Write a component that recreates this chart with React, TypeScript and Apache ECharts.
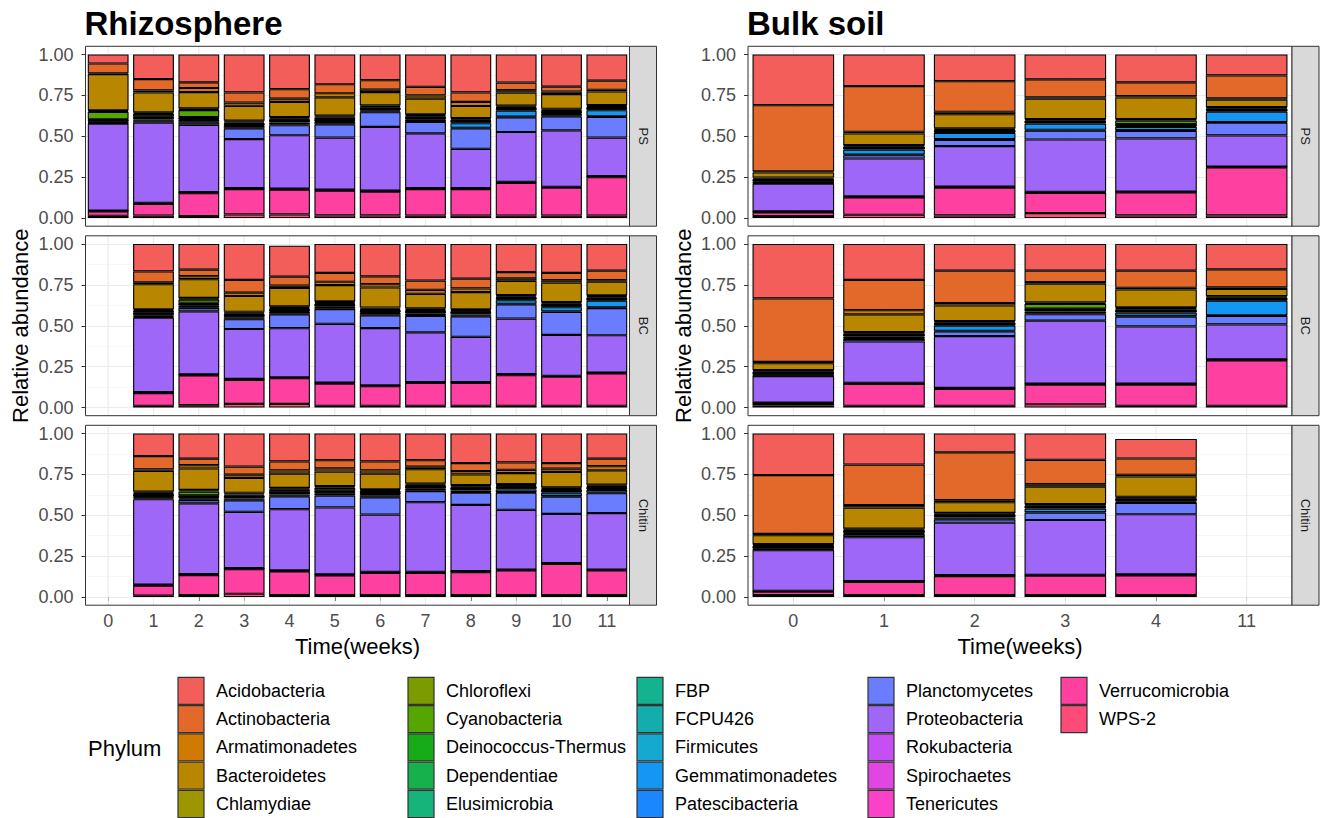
import React, { useEffect, useRef } from "react";
import * as echarts from "echarts";

// ---------------- data ----------------
const PHYLA = [
  "Acidobacteria", "Actinobacteria", "Armatimonadetes", "Bacteroidetes", "Chlamydiae",
  "Chloroflexi", "Cyanobacteria", "Deinococcus-Thermus", "Dependentiae", "Elusimicrobia",
  "FBP", "FCPU426", "Firmicutes", "Gemmatimonadetes", "Patescibacteria",
  "Planctomycetes", "Proteobacteria", "Rokubacteria", "Spirochaetes", "Tenericutes",
  "Verrucomicrobia", "WPS-2",
];

const PHYLUM_COLORS = [
  "#F35E5A", "#E3692B", "#D07A00", "#B98600", "#9D9600",
  "#7B9B00", "#55A600", "#16AB17", "#17B04D", "#16B47A",
  "#14B28E", "#14ADAD", "#15A9CF", "#1596F2", "#1A86FF",
  "#6A7DFF", "#9F67F8", "#C54EF4", "#E246E2", "#F941CA",
  "#FE41A0", "#FE4C78",
];

const RHIZO_WEEKS = ["0", "1", "2", "3", "4", "5", "6", "7", "8", "9", "10", "11"];
const BULK_WEEKS = ["0", "1", "2", "3", "4", "11"];
const TREATMENTS = ["PS", "BC", "Chitin"];
const REGIONS = ["Rhizosphere", "Bulk soil"];
const Y_TICKS = [0, 0.25, 0.5, 0.75, 1];

type Table = Record<string, (number | null)[]>;

const RHIZO_PS: Table = {
  Acidobacteria: [0.055, 0.15, 0.17, 0.232, 0.212, 0.182, 0.157, 0.198, 0.232, 0.172, 0.197, 0.16],
  Actinobacteria: [0.06, 0.07, 0.035, 0.062, 0.058, 0.055, 0.058, 0.052, 0.058, 0.046, 0.03, 0.056],
  Armatimonadetes: [0.005, 0.012, 0.025, 0.02, 0.02, 0.025, 0.015, 0.02, 0.025, 0.015, 0.015, 0.01],
  Bacteroidetes: [0.221, 0.122, 0.1, 0.09, 0.093, 0.112, 0.081, 0.096, 0.074, 0.08, 0.09, 0.084],
  Chlamydiae: [0.004, 0.004, 0.004, 0.004, 0.004, 0.004, 0.004, 0.004, 0.004, 0.004, 0.004, 0.004],
  Chloroflexi: [0.006, 0.006, 0.006, 0.006, 0.006, 0.006, 0.006, 0.006, 0.006, 0.006, 0.006, 0.006],
  Cyanobacteria: [0.045, 0.015, 0.043, 0.006, 0.005, 0.01, 0.004, 0.004, 0.003, 0.003, 0.003, 0.003],
  "Deinococcus-Thermus": [0.004, 0.004, 0.004, 0.004, 0.004, 0.004, 0.004, 0.004, 0.004, 0.004, 0.004, 0.004],
  Dependentiae: [0.002, 0.002, 0.002, 0.002, 0.002, 0.002, 0.002, 0.002, 0.002, 0.002, 0.002, 0.002],
  Elusimicrobia: [0.002, 0.002, 0.002, 0.002, 0.002, 0.002, 0.002, 0.002, 0.002, 0.002, 0.002, 0.002],
  FBP: [0.002, 0.002, 0.002, 0.002, 0.002, 0.002, 0.002, 0.002, 0.002, 0.002, 0.002, 0.002],
  FCPU426: [0.002, 0.002, 0.002, 0.002, 0.002, 0.002, 0.002, 0.002, 0.002, 0.002, 0.002, 0.002],
  Firmicutes: [0.006, 0.006, 0.006, 0.006, 0.006, 0.006, 0.006, 0.006, 0.006, 0.006, 0.006, 0.006],
  Gemmatimonadetes: [0.002, 0.008, 0.01, 0.01, 0.012, 0.012, 0.006, 0.01, 0.028, 0.036, 0.012, 0.037],
  Patescibacteria: [0.004, 0.004, 0.004, 0.004, 0.004, 0.004, 0.004, 0.004, 0.004, 0.004, 0.004, 0.004],
  Planctomycetes: [0.003, 0.008, 0.015, 0.065, 0.062, 0.08, 0.09, 0.07, 0.125, 0.09, 0.085, 0.126],
  Proteobacteria: [0.531, 0.49, 0.412, 0.3, 0.326, 0.318, 0.39, 0.335, 0.24, 0.305, 0.345, 0.236],
  Rokubacteria: [0.002, 0.002, 0.002, 0.002, 0.002, 0.002, 0.002, 0.002, 0.002, 0.002, 0.002, 0.002],
  Spirochaetes: [0.001, 0.001, 0.001, 0.001, 0.001, 0.001, 0.001, 0.001, 0.001, 0.001, 0.001, 0.001],
  Tenericutes: [0.003, 0.003, 0.003, 0.003, 0.003, 0.003, 0.003, 0.003, 0.003, 0.003, 0.003, 0.003],
  Verrucomicrobia: [0.027, 0.072, 0.14, 0.155, 0.152, 0.152, 0.145, 0.162, 0.162, 0.2, 0.17, 0.235],
  "WPS-2": [0.013, 0.015, 0.012, 0.022, 0.022, 0.016, 0.016, 0.015, 0.015, 0.015, 0.015, 0.015],
};

const RHIZO_BC: Table = {
  Acidobacteria: [null, 0.168, 0.157, 0.22, 0.19, 0.177, 0.198, 0.224, 0.212, 0.172, 0.177, 0.163],
  Actinobacteria: [null, 0.066, 0.04, 0.078, 0.054, 0.054, 0.048, 0.056, 0.06, 0.038, 0.044, 0.058],
  Armatimonadetes: [null, 0.012, 0.018, 0.02, 0.015, 0.02, 0.02, 0.025, 0.022, 0.015, 0.015, 0.01],
  Bacteroidetes: [null, 0.153, 0.115, 0.097, 0.113, 0.099, 0.123, 0.089, 0.105, 0.087, 0.119, 0.083],
  Chlamydiae: [null, 0.004, 0.004, 0.004, 0.004, 0.004, 0.004, 0.004, 0.004, 0.004, 0.004, 0.004],
  Chloroflexi: [null, 0.006, 0.006, 0.006, 0.006, 0.006, 0.006, 0.006, 0.006, 0.006, 0.006, 0.006],
  Cyanobacteria: [null, 0.01, 0.02, 0.005, 0.006, 0.006, 0.005, 0.004, 0.004, 0.004, 0.004, 0.004],
  "Deinococcus-Thermus": [null, 0.004, 0.004, 0.004, 0.004, 0.004, 0.004, 0.004, 0.004, 0.004, 0.004, 0.004],
  Dependentiae: [null, 0.002, 0.002, 0.002, 0.002, 0.002, 0.002, 0.002, 0.002, 0.002, 0.002, 0.002],
  Elusimicrobia: [null, 0.002, 0.002, 0.002, 0.002, 0.002, 0.002, 0.002, 0.002, 0.002, 0.002, 0.002],
  FBP: [null, 0.002, 0.002, 0.002, 0.002, 0.002, 0.002, 0.002, 0.002, 0.002, 0.002, 0.002],
  FCPU426: [null, 0.002, 0.002, 0.002, 0.002, 0.002, 0.002, 0.002, 0.002, 0.002, 0.002, 0.002],
  Firmicutes: [null, 0.006, 0.006, 0.006, 0.006, 0.006, 0.006, 0.006, 0.006, 0.006, 0.006, 0.006],
  Gemmatimonadetes: [null, 0.005, 0.01, 0.008, 0.01, 0.01, 0.01, 0.01, 0.008, 0.022, 0.025, 0.042],
  Patescibacteria: [null, 0.004, 0.004, 0.004, 0.004, 0.004, 0.004, 0.004, 0.004, 0.004, 0.004, 0.004],
  Planctomycetes: [null, 0.005, 0.02, 0.06, 0.085, 0.09, 0.078, 0.1, 0.125, 0.086, 0.14, 0.166],
  Proteobacteria: [null, 0.455, 0.386, 0.305, 0.3, 0.36, 0.35, 0.304, 0.276, 0.34, 0.25, 0.228],
  Rokubacteria: [null, 0.002, 0.002, 0.002, 0.002, 0.002, 0.002, 0.002, 0.002, 0.002, 0.002, 0.002],
  Spirochaetes: [null, 0.001, 0.001, 0.001, 0.001, 0.001, 0.001, 0.001, 0.001, 0.001, 0.001, 0.001],
  Tenericutes: [null, 0.003, 0.003, 0.003, 0.003, 0.003, 0.003, 0.003, 0.003, 0.003, 0.003, 0.003],
  Verrucomicrobia: [null, 0.078, 0.182, 0.147, 0.157, 0.136, 0.12, 0.14, 0.14, 0.188, 0.178, 0.198],
  "WPS-2": [null, 0.01, 0.014, 0.022, 0.022, 0.01, 0.01, 0.01, 0.01, 0.01, 0.01, 0.01],
};

const RHIZO_CHITIN: Table = {
  Acidobacteria: [null, 0.138, 0.154, 0.202, 0.171, 0.163, 0.171, 0.163, 0.181, 0.177, 0.181, 0.154],
  Actinobacteria: [null, 0.082, 0.04, 0.05, 0.055, 0.05, 0.055, 0.04, 0.049, 0.045, 0.034, 0.046],
  Armatimonadetes: [null, 0.008, 0.02, 0.02, 0.02, 0.02, 0.02, 0.015, 0.02, 0.02, 0.02, 0.025],
  Bacteroidetes: [null, 0.127, 0.131, 0.091, 0.087, 0.089, 0.095, 0.088, 0.066, 0.068, 0.095, 0.088],
  Chlamydiae: [null, 0.004, 0.004, 0.004, 0.004, 0.004, 0.004, 0.004, 0.004, 0.004, 0.004, 0.004],
  Chloroflexi: [null, 0.006, 0.006, 0.006, 0.006, 0.006, 0.006, 0.006, 0.006, 0.006, 0.006, 0.006],
  Cyanobacteria: [null, 0.005, 0.024, 0.006, 0.012, 0.016, 0.008, 0.004, 0.004, 0.004, 0.004, 0.004],
  "Deinococcus-Thermus": [null, 0.004, 0.004, 0.004, 0.004, 0.004, 0.004, 0.004, 0.004, 0.004, 0.004, 0.004],
  Dependentiae: [null, 0.002, 0.002, 0.002, 0.002, 0.002, 0.002, 0.002, 0.002, 0.002, 0.002, 0.002],
  Elusimicrobia: [null, 0.002, 0.002, 0.002, 0.002, 0.002, 0.002, 0.002, 0.002, 0.002, 0.002, 0.002],
  FBP: [null, 0.002, 0.002, 0.002, 0.002, 0.002, 0.002, 0.002, 0.002, 0.002, 0.002, 0.002],
  FCPU426: [null, 0.002, 0.002, 0.002, 0.002, 0.002, 0.002, 0.002, 0.002, 0.002, 0.002, 0.002],
  Firmicutes: [null, 0.006, 0.006, 0.006, 0.006, 0.006, 0.006, 0.006, 0.006, 0.006, 0.006, 0.006],
  Gemmatimonadetes: [null, 0.004, 0.006, 0.008, 0.008, 0.01, 0.01, 0.01, 0.01, 0.016, 0.02, 0.016],
  Patescibacteria: [null, 0.004, 0.004, 0.004, 0.004, 0.004, 0.004, 0.004, 0.004, 0.004, 0.004, 0.004],
  Planctomycetes: [null, 0.006, 0.02, 0.07, 0.078, 0.072, 0.105, 0.068, 0.075, 0.105, 0.106, 0.122],
  Proteobacteria: [null, 0.522, 0.433, 0.345, 0.374, 0.41, 0.35, 0.426, 0.405, 0.365, 0.3, 0.345],
  Rokubacteria: [null, 0.002, 0.002, 0.002, 0.002, 0.002, 0.002, 0.002, 0.002, 0.002, 0.002, 0.002],
  Spirochaetes: [null, 0.001, 0.001, 0.001, 0.001, 0.001, 0.001, 0.001, 0.001, 0.001, 0.001, 0.001],
  Tenericutes: [null, 0.003, 0.003, 0.003, 0.003, 0.003, 0.003, 0.003, 0.003, 0.003, 0.003, 0.003],
  Verrucomicrobia: [null, 0.062, 0.122, 0.15, 0.145, 0.12, 0.136, 0.136, 0.14, 0.15, 0.19, 0.15],
  "WPS-2": [null, 0.008, 0.012, 0.02, 0.012, 0.012, 0.012, 0.012, 0.012, 0.012, 0.012, 0.012],
};

const BULK_PS: Table = {
  Acidobacteria: [0.31, 0.193, 0.163, 0.152, 0.17, 0.128],
  Actinobacteria: [0.405, 0.28, 0.187, 0.11, 0.085, 0.14],
  Armatimonadetes: [0.006, 0.01, 0.015, 0.008, 0.008, 0.008],
  Bacteroidetes: [0.032, 0.071, 0.087, 0.125, 0.132, 0.046],
  Chlamydiae: [0.004, 0.004, 0.004, 0.004, 0.004, 0.004],
  Chloroflexi: [0.006, 0.006, 0.006, 0.006, 0.006, 0.006],
  Cyanobacteria: [null, null, null, null, 0.02, null],
  "Deinococcus-Thermus": [0.004, 0.004, 0.004, 0.004, 0.004, 0.004],
  Dependentiae: [0.002, 0.002, 0.002, 0.002, 0.002, 0.002],
  Elusimicrobia: [0.002, 0.002, 0.002, 0.002, 0.002, 0.002],
  FBP: [0.002, 0.002, 0.002, 0.002, 0.002, 0.002],
  FCPU426: [0.002, 0.002, 0.002, 0.002, 0.002, 0.002],
  Firmicutes: [0.006, 0.006, 0.006, 0.006, 0.006, 0.006],
  Gemmatimonadetes: [0.002, 0.03, 0.038, 0.038, 0.02, 0.063],
  Patescibacteria: [0.004, 0.004, 0.004, 0.004, 0.004, 0.004],
  Planctomycetes: [0.003, 0.02, 0.038, 0.055, 0.046, 0.078],
  Proteobacteria: [0.17, 0.232, 0.248, 0.32, 0.325, 0.19],
  Rokubacteria: [0.002, 0.002, 0.002, 0.002, 0.002, 0.002],
  Spirochaetes: [0.001, 0.001, 0.001, 0.001, 0.001, 0.001],
  Tenericutes: [0.003, 0.003, 0.003, 0.003, 0.003, 0.003],
  Verrucomicrobia: [0.022, 0.106, 0.17, 0.124, 0.14, 0.293],
  "WPS-2": [0.012, 0.02, 0.016, 0.03, 0.016, 0.016],
};

const BULK_BC: Table = {
  Acidobacteria: [0.333, 0.22, 0.163, 0.163, 0.163, 0.155],
  Actinobacteria: [0.388, 0.185, 0.198, 0.07, 0.105, 0.11],
  Armatimonadetes: [0.008, 0.025, 0.015, 0.01, 0.01, 0.01],
  Bacteroidetes: [0.042, 0.109, 0.095, 0.114, 0.109, 0.043],
  Chlamydiae: [0.004, 0.004, 0.004, 0.004, 0.004, 0.004],
  Chloroflexi: [0.006, 0.006, 0.006, 0.006, 0.006, 0.006],
  Cyanobacteria: [null, null, null, 0.028, 0.005, null],
  "Deinococcus-Thermus": [0.004, 0.004, 0.004, 0.004, 0.004, 0.004],
  Dependentiae: [0.002, 0.002, 0.002, 0.002, 0.002, 0.002],
  Elusimicrobia: [0.002, 0.002, 0.002, 0.002, 0.002, 0.002],
  FBP: [0.002, 0.002, 0.002, 0.002, 0.002, 0.002],
  FCPU426: [0.002, 0.002, 0.002, 0.002, 0.002, 0.002],
  Firmicutes: [0.006, 0.006, 0.006, 0.006, 0.006, 0.006],
  Gemmatimonadetes: [0.002, 0.01, 0.032, 0.012, 0.02, 0.09],
  Patescibacteria: [0.004, 0.004, 0.004, 0.004, 0.004, 0.004],
  Planctomycetes: [0.003, 0.015, 0.028, 0.04, 0.06, 0.052],
  Proteobacteria: [0.162, 0.253, 0.317, 0.385, 0.35, 0.214],
  Rokubacteria: [0.002, 0.002, 0.002, 0.002, 0.002, 0.002],
  Spirochaetes: [0.001, 0.001, 0.001, 0.001, 0.001, 0.001],
  Tenericutes: [0.003, 0.003, 0.003, 0.003, 0.003, 0.003],
  Verrucomicrobia: [0.012, 0.135, 0.104, 0.12, 0.13, 0.278],
  "WPS-2": [0.012, 0.01, 0.01, 0.02, 0.01, 0.01],
};

const BULK_CHITIN: Table = {
  Acidobacteria: [0.254, 0.19, 0.115, 0.161, 0.12, null],
  Actinobacteria: [0.36, 0.248, 0.293, 0.149, 0.1, null],
  Armatimonadetes: [0.008, 0.015, 0.012, 0.015, 0.01, null],
  Bacteroidetes: [0.055, 0.129, 0.066, 0.107, 0.124, null],
  Chlamydiae: [0.004, 0.004, 0.004, 0.004, 0.004, null],
  Chloroflexi: [0.006, 0.006, 0.006, 0.006, 0.006, null],
  "Deinococcus-Thermus": [0.004, 0.004, 0.004, 0.004, 0.004, null],
  Dependentiae: [0.002, 0.002, 0.002, 0.002, 0.002, null],
  Elusimicrobia: [0.002, 0.002, 0.002, 0.002, 0.002, null],
  FBP: [0.002, 0.002, 0.002, 0.002, 0.002, null],
  FCPU426: [0.002, 0.002, 0.002, 0.002, 0.002, null],
  Firmicutes: [0.006, 0.006, 0.006, 0.006, 0.006, null],
  Gemmatimonadetes: [0.002, 0.005, 0.008, 0.02, 0.005, null],
  Patescibacteria: [0.004, 0.004, 0.004, 0.004, 0.004, null],
  Planctomycetes: [0.003, 0.015, 0.02, 0.045, 0.07, null],
  Proteobacteria: [0.248, 0.268, 0.32, 0.335, 0.368, null],
  Rokubacteria: [0.002, 0.002, 0.002, 0.002, 0.002, null],
  Spirochaetes: [0.001, 0.001, 0.001, 0.001, 0.001, null],
  Tenericutes: [0.003, 0.003, 0.003, 0.003, 0.003, null],
  Verrucomicrobia: [0.02, 0.08, 0.116, 0.118, 0.12, null],
  "WPS-2": [0.012, 0.012, 0.012, 0.012, 0.012, null],
};

// ---------------- layout ----------------
const FONT = "'Liberation Sans', Arial, Helvetica, sans-serif";
const COL_LEFT = [85.5, 748];
const PANEL_W = 544;
const STRIP_W = 27;
const GRID_TOP = [54.5, 244, 433.5];
const GRID_H = 163.5;
const EXPAND = 8.2;
const LEGEND_COL_X = [178, 408, 637, 868, 1061];
const LEGEND_ROW_Y = [690.8, 719.1, 747.4, 775.7, 804];

const PANELS = [
  { col: 0, row: 0, cats: RHIZO_WEEKS, table: RHIZO_PS },
  { col: 0, row: 1, cats: RHIZO_WEEKS, table: RHIZO_BC },
  { col: 0, row: 2, cats: RHIZO_WEEKS, table: RHIZO_CHITIN },
  { col: 1, row: 0, cats: BULK_WEEKS, table: BULK_PS },
  { col: 1, row: 1, cats: BULK_WEEKS, table: BULK_BC },
  { col: 1, row: 2, cats: BULK_WEEKS, table: BULK_CHITIN },
];

function buildOption(): any {
  const grid: any[] = [];
  const xAxis: any[] = [];
  const yAxis: any[] = [];
  const series: any[] = [];
  const graphic: any[] = [];

  PANELS.forEach((p, pi) => {
    const left = COL_LEFT[p.col];
    const top = GRID_TOP[p.row];
    const bottomRow = p.row === 2;
    grid.push({ left, top, width: PANEL_W, height: GRID_H, show: false });
    xAxis.push({
      type: "category",
      gridIndex: pi,
      data: p.cats,
      boundaryGap: true,
      offset: EXPAND,
      axisLine: { show: false },
      axisTick: { show: bottomRow, alignWithLabel: true, length: 4, lineStyle: { color: "#333333", width: 1 } },
      axisLabel: { show: bottomRow, color: "#4d4d4d", fontSize: 18, fontFamily: FONT, margin: 7, interval: 0 },
      splitLine: { show: false },
    });
    yAxis.push({
      type: "value",
      gridIndex: pi,
      min: Y_TICKS[0],
      max: Y_TICKS[Y_TICKS.length - 1],
      interval: 0.25,
      axisLine: { show: false },
      axisTick: { show: true, length: 4, lineStyle: { color: "#333333", width: 1 } },
      axisLabel: { color: "#4d4d4d", fontSize: 18, fontFamily: FONT, margin: 12, formatter: (v: number) => v.toFixed(2) },
      splitLine: { show: true, lineStyle: { color: "#ebebeb", width: 1.1 } },
      minorTick: { show: false, splitNumber: 2 },
      minorSplitLine: { show: true, lineStyle: { color: "#f2f2f2", width: 0.6 } },
    });

    // vertical major grid lines at category centres (full panel height)
    series.push({
      type: "custom",
      xAxisIndex: pi,
      yAxisIndex: pi,
      z: 1,
      silent: true,
      clip: false,
      data: p.cats.map((_c, i) => [i]),
      renderItem: (params: any, api: any) => {
        const x = api.coord([api.value(0), 0])[0];
        const cs = params.coordSys;
        return {
          type: "line",
          shape: { x1: x, y1: cs.y - EXPAND, x2: x, y2: cs.y + cs.height + EXPAND },
          style: { stroke: "#ebebeb", lineWidth: 1.1 },
        };
      },
    });

    // stacked bars: last phylum at bottom
    for (let k = PHYLA.length - 1; k >= 0; k--) {
      const name = PHYLA[k];
      const values = p.table[name];
      if (!values) continue;
      series.push({
        type: "bar",
        name,
        xAxisIndex: pi,
        yAxisIndex: pi,
        stack: "panel" + pi,
        barWidth: "90%",
        data: values,
        silent: true,
        emphasis: { disabled: true },
        itemStyle: { color: PHYLUM_COLORS[k], borderColor: "#000000", borderWidth: 1.1 },
      });
    }

    // panel border
    graphic.push({
      type: "rect",
      z: 50,
      silent: true,
      shape: { x: left, y: top - EXPAND, width: PANEL_W, height: GRID_H + 2 * EXPAND },
      style: { fill: "none", stroke: "#333333", lineWidth: 1 },
    });
    // strip
    graphic.push({
      type: "rect",
      z: 50,
      silent: true,
      shape: { x: left + PANEL_W, y: top - EXPAND, width: STRIP_W, height: GRID_H + 2 * EXPAND },
      style: { fill: "#d9d9d9", stroke: "#333333", lineWidth: 1 },
    });
    graphic.push({
      type: "text",
      z: 51,
      silent: true,
      x: left + PANEL_W + STRIP_W / 2,
      y: top + GRID_H / 2,
      rotation: -Math.PI / 2,
      style: {
        text: TREATMENTS[p.row],
        fill: "#1a1a1a",
        font: `13px ${FONT}`,
        align: "center",
        verticalAlign: "middle",
      },
    });
  });

  const panelTop = GRID_TOP[0] - EXPAND;
  const panelBottom = GRID_TOP[2] + GRID_H + EXPAND;

  REGIONS.forEach((region, c) => {
    const left = COL_LEFT[c];
    graphic.push({
      type: "text",
      silent: true,
      x: left - 1,
      y: 23,
      style: { text: region, fill: "#000000", font: `bold 33px ${FONT}`, align: "left", verticalAlign: "middle" },
    });
    graphic.push({
      type: "text",
      silent: true,
      x: left - 65,
      y: (panelTop + panelBottom) / 2,
      rotation: Math.PI / 2,
      style: { text: "Relative abundance", fill: "#000000", font: `22px ${FONT}`, align: "center", verticalAlign: "middle" },
    });
    graphic.push({
      type: "text",
      silent: true,
      x: left + PANEL_W / 2,
      y: 646,
      style: { text: "Time(weeks)", fill: "#000000", font: `22px ${FONT}`, align: "center", verticalAlign: "middle" },
    });
  });

  // legend
  graphic.push({
    type: "text",
    silent: true,
    x: 88,
    y: 748,
    style: { text: "Phylum", fill: "#000000", font: `22px ${FONT}`, align: "left", verticalAlign: "middle" },
  });
  PHYLA.forEach((name, k) => {
    const cx = LEGEND_COL_X[Math.floor(k / 5)];
    const cy = LEGEND_ROW_Y[k % 5];
    graphic.push({
      type: "rect",
      silent: true,
      shape: { x: cx, y: cy - 13.5, width: 26, height: 27 },
      style: { fill: PHYLUM_COLORS[k], stroke: "#333333", lineWidth: 1.2 },
    });
    graphic.push({
      type: "text",
      silent: true,
      x: cx + 38,
      y: cy,
      style: { text: name, fill: "#000000", font: `18px ${FONT}`, align: "left", verticalAlign: "middle" },
    });
  });

  return {
    animation: false,
    backgroundColor: "#ffffff",
    textStyle: { fontFamily: FONT },
    grid,
    xAxis,
    yAxis,
    series,
    graphic,
  };
}

export default function App() {
  const ref = useRef<HTMLDivElement>(null);
  useEffect(() => {
    if (!ref.current) return;
    const chart = echarts.init(ref.current, null, { renderer: "svg" });
    chart.setOption(buildOption());
    return () => {
      chart.dispose();
    };
  }, []);
  return (
    <div
      ref={ref}
      style={{ position: "absolute", left: 0, top: 0, width: 1328, height: 818, background: "#ffffff" }}
    />
  );
}
